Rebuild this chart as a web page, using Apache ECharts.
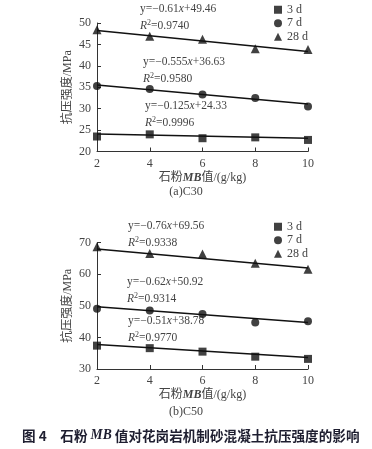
<!DOCTYPE html>
<html><head><meta charset="utf-8">
<script src="https://cdn.jsdelivr.net/npm/echarts@6/dist/echarts.min.js"></script>
<style>html,body{margin:0;padding:0;background:#fff}#c{width:372px;height:449px}</style>
</head><body><div id="c"></div>
<script>
const xCats = [2, 4, 6, 8, 10];
// (a) C30
const a3d = [23.5, 24.0, 23.1, 23.3, 22.7];
const a7d = [35.3, 34.6, 33.3, 32.5, 30.5];
const a28d = [48.4, 46.9, 46.2, 44.0, 43.8];
const aTrend3d = [24.08, 23.08];
const aTrend7d = [35.52, 31.08];
const aTrend28d = [48.24, 43.36];
// (b) C50
const b3d = [37.4, 36.6, 35.5, 33.9, 33.2];
const b7d = [49.1, 48.5, 47.4, 44.7, 45.1];
const b28d = [68.7, 66.6, 66.4, 63.5, 61.6];
const bTrend3d = [37.76, 33.68];
const bTrend7d = [49.68, 44.72];
const bTrend28d = [68.04, 61.96];
const trendX = [2, 10];
const seriesNames = ['3 d', '7 d', '28 d'];
const eqA = [['-0.61', '+49.46', '0.9740'], ['-0.555', '+36.63', '0.9580'], ['-0.125', '+24.33', '0.9996']];
const eqB = [['-0.76', '+69.56', '0.9338'], ['-0.62', '+50.92', '0.9314'], ['-0.51', '+38.78', '0.9770']];

const serif = '"Liberation Serif","DejaVu Serif","Noto Sans CJK SC",serif';
const txtColor = '#444';
const chart = echarts.init(document.getElementById('c'));

function pts(arr){ return arr.map((v,i)=>[xCats[i], v]); }
function line(arr){ return arr.map((v,i)=>[trendX[i], v]); }
const symbols = ['rect','circle','triangle'];

function makeSeries(gi, d3, d7, d28, t3, t7, t28){
  const out = [];
  [d3,d7,d28].forEach((d,k)=>{
    out.push({type:'scatter', name:seriesNames[k], xAxisIndex:gi, yAxisIndex:gi, data:pts(d),
      symbol:symbols[k], symbolSize: k===2?9:8, itemStyle:{color:'#111'}, z:3});
  });
  [t3,t7,t28].forEach(t=>{
    out.push({type:'line', xAxisIndex:gi, yAxisIndex:gi, data:line(t), symbol:'none',
      lineStyle:{color:'#111', width:1.5}, silent:true, z:2});
  });
  return out;
}

function xAxis(gi){
  return {type:'value', gridIndex:gi, min:2, max:10, interval:2,
    axisLine:{lineStyle:{color:'#333', width:1}},
    axisTick:{inside:true, length:4, lineStyle:{color:'#333'}},
    axisLabel:{color:txtColor, fontFamily:serif, fontSize:12, margin:6},
    splitLine:{show:false},
    name:'{a|石粉}{i|MB}{a|值/(g/kg)}', nameLocation:'middle', nameGap:20, nameMoveOverlap:false,
    nameTextStyle:{rich:{a:{fontFamily:serif, fontSize:12, color:txtColor}, i:{fontFamily:serif, fontSize:12, fontStyle:'italic', fontWeight:'bold', color:txtColor}}}
  };
}
function yAxis(gi, min, max, interval){
  return {type:'value', gridIndex:gi, min:min, max:max, interval:interval,
    axisLine:{show:true, lineStyle:{color:'#333', width:1}},
    axisTick:{show:true, inside:true, length:4, lineStyle:{color:'#333'}},
    axisLabel:{color:txtColor, fontFamily:serif, fontSize:12, margin:6},
    splitLine:{show:false},
    name:'抗压强度/MPa', nameLocation:'middle', nameGap:23, nameRotate:90, nameMoveOverlap:false,
    nameTextStyle:{fontFamily:serif, fontSize:12, color:txtColor}
  };
}

function eqTexts(eqs, positions){
  const g = [];
  eqs.forEach((e,k)=>{
    const p = positions[k];
    g.push({type:'text', left:p[0], top:p[1], style:{
      text:'{n|y=' + e[0].replace('-', '−') + '}{i|x}{n|' + e[1] + '}',
      rich:{n:{fontFamily:serif, fontSize:11.5, fill:txtColor, color:txtColor}, i:{fontFamily:serif, fontSize:11.5, fontStyle:'italic', fill:txtColor, color:txtColor}}
    }});
    g.push({type:'text', left:p[0], top:p[1]+16, style:{
      text:'{i|R}{s|2}{n|=' + e[2] + '}',
      rich:{n:{fontFamily:serif, fontSize:11.5, fill:txtColor, color:txtColor}, i:{fontFamily:serif, fontSize:11.5, fontStyle:'italic', fill:txtColor, color:txtColor}, s:{fontFamily:serif, fontSize:8, verticalAlign:'top', padding:[0,0,6,0], fill:txtColor, color:txtColor}}
    }});
  });
  return g;
}

const graphics = []
  .concat(eqTexts(eqA, [[140,3],[143,56],[145,100]]))
  .concat(eqTexts(eqB, [[128,220],[127,276],[128,315]]))
  .concat([
    {type:'text', left:'center', top:186, style:{text:'(a)C30', fontFamily:serif, fontSize:12, fill:txtColor}, x:18},
    {type:'text', left:'center', top:406, style:{text:'(b)C50', fontFamily:serif, fontSize:12, fill:txtColor}, x:18},
    {type:'text', left:22, top:429, style:{
      text:'{b|图 4　石粉 }{i|MB}{b| 值对花岗岩机制砂混凝土抗压强度的影响}',
      rich:{b:{fontFamily:'"Noto Sans CJK SC",sans-serif', fontSize:13.6, fontWeight:'bold', fill:'#1e1e30', color:'#1e1e30'},
            i:{fontFamily:serif, fontSize:13.6, fontStyle:'italic', fontWeight:'bold', fill:'#1e1e30', color:'#1e1e30'}}
    }}
  ]);

function legend(top){
  return {orient:'vertical', left:274, top:top, padding:0, itemWidth:8, itemHeight:8, itemGap:0,
    data:[{name:'3 d', icon:'rect'},{name:'7 d', icon:'circle'},{name:'28 d', icon:'triangle'}],
    textStyle:{fontFamily:serif, fontSize:12, color:txtColor, lineHeight:13.5}, selectedMode:false};
}

chart.setOption({
  animation:false,
  grid:[
    {left:97, top:23, width:211, height:128.5},
    {left:97, top:242.7, width:211, height:126.3}
  ],
  xAxis:[xAxis(0), xAxis(1)],
  yAxis:[yAxis(0,20,50,5), yAxis(1,30,70,10)],
  legend:[legend(3), legend(220)],
  series: makeSeries(0, a3d, a7d, a28d, aTrend3d, aTrend7d, aTrend28d)
    .concat(makeSeries(1, b3d, b7d, b28d, bTrend3d, bTrend7d, bTrend28d)),
  graphic: graphics
});
</script></body></html>
